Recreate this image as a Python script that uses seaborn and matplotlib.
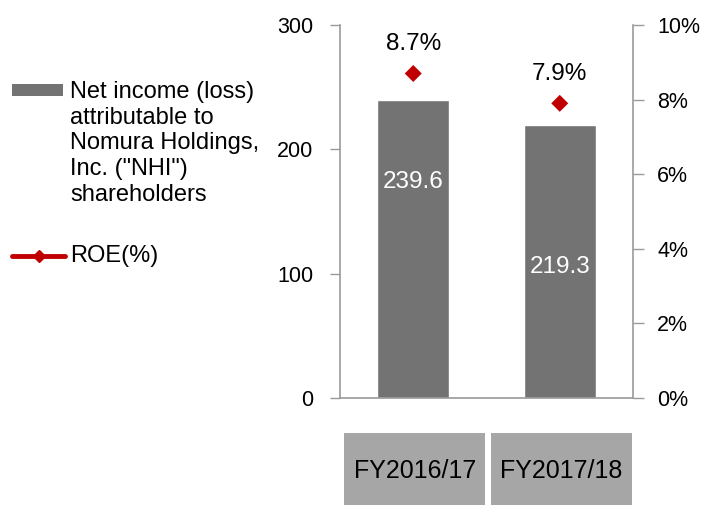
import numpy as np
import matplotlib
matplotlib.use("Agg")
import matplotlib.pyplot as plt
from matplotlib.patches import Rectangle
from matplotlib.lines import Line2D
import seaborn as sns

# data
periods = ["FY2016/17", "FY2017/18"]
net_income = [239.6, 219.3]     # billions of yen
roe = [8.7, 7.9]                # percent
left_ticks = [0, 100, 200, 300]
right_ticks = [0, 2, 4, 6, 8, 10]
legend_income = 'Net income (loss)\nattributable to\nNomura Holdings,\nInc. ("NHI")\nshareholders'
legend_roe = "ROE(%)"

# style
BAR = "#737373"
RED = "#c00000"
BOX = "#a6a6a6"
SPINE = "#9a9a9a"
FS_TICK = 15.5
FS_LABEL = 17.5
FS_CAT = 18
FS_LEG = 17

sns.set_style("white")
plt.rcParams["font.family"] = ["Liberation Sans", "DejaVu Sans"]
plt.rcParams["text.color"] = "black"

fig = plt.figure(figsize=(7.04, 5.05), dpi=100)
ax = fig.add_axes([340 / 704, 1 - 398 / 505, 293 / 704, 373 / 505])

sns.barplot(x=periods, y=net_income, color=BAR, saturation=1, width=0.49, ax=ax)
ax.set_xlim(-0.5, 1.5)
ax.set_ylim(0, 300)
ax.set_yticks(left_ticks)
ax.set_xlabel("")
ax.set_ylabel("")
ax.set_xticks([])
ax.set_xticks([0.5, 1.5], minor=True)
ax.tick_params(axis="x", which="minor", direction="in", length=5, color=SPINE, labelbottom=False)
ax.tick_params(axis="y", direction="out", length=7, width=1, color=SPINE, labelcolor="black",
               labelsize=FS_TICK, pad=12, left=True)
for s in ["top", "right"]:
    ax.spines[s].set_visible(False)
for s in ["left", "bottom"]:
    ax.spines[s].set_color(SPINE)
    ax.spines[s].set_linewidth(1.2)

# value labels inside bars (Excel placement)
label_pos = [174, 105]
for i, (v, yp) in enumerate(zip(net_income, label_pos)):
    ax.text(i, yp, f"{v:.1f}", ha="center", va="center", color="white", fontsize=FS_LABEL)

# ROE on secondary axis
ax2 = ax.twinx()
sns.scatterplot(x=np.arange(len(periods)), y=roe, marker="D", color=RED, s=75,
                edgecolor="none", ax=ax2, zorder=5, legend=False)
ax2.set_ylim(0, 10)
ax2.set_yticks(right_ticks)
ax2.set_yticklabels([f"{t}%" for t in right_ticks])
ax2.tick_params(axis="y", direction="out", length=8, width=1, color=SPINE, labelcolor="black",
                labelsize=FS_TICK, pad=9.5, right=True)
for s in ["top", "left", "bottom"]:
    ax2.spines[s].set_visible(False)
ax2.spines["right"].set_color(SPINE)
ax2.spines["right"].set_linewidth(1.2)
for i, r in enumerate(roe):
    ax2.annotate(f"{r}%", (i, r), xytext=(0, 21), textcoords="offset points",
                 ha="center", va="center", fontsize=FS_LABEL)

# category boxes under the axis
trans = ax.get_xaxis_transform()
for i, p in enumerate(periods):
    ax.add_patch(Rectangle((i - 0.47, -0.287), 0.96, 0.193, transform=trans,
                           facecolor=BOX, edgecolor="none", clip_on=False))
    ax.text(i + 0.01, -0.195, p, transform=trans, ha="center", va="center", fontsize=FS_CAT)

# legend drawn on the left
fig.patches.append(Rectangle((12 / 704, 1 - 96 / 505), 51 / 704, 12 / 505,
                             transform=fig.transFigure, facecolor=BAR, edgecolor="none"))
fig.text(70 / 704, 1 - 81 / 505, legend_income, ha="left", va="top", fontsize=FS_LEG,
         linespacing=1.22)
fig.lines.append(Line2D([12 / 704, 65 / 704], [1 - 256 / 505] * 2, transform=fig.transFigure,
                        color=RED, linewidth=3.5, solid_capstyle="round"))
fig.lines.append(Line2D([38.5 / 704], [1 - 256 / 505], transform=fig.transFigure,
                        marker="D", markersize=6, color=RED, linestyle="none"))
fig.text(70 / 704, 1 - 256 / 505, legend_roe, ha="left", va="center", fontsize=FS_LEG)

fig.savefig("out.png", dpi=100)
